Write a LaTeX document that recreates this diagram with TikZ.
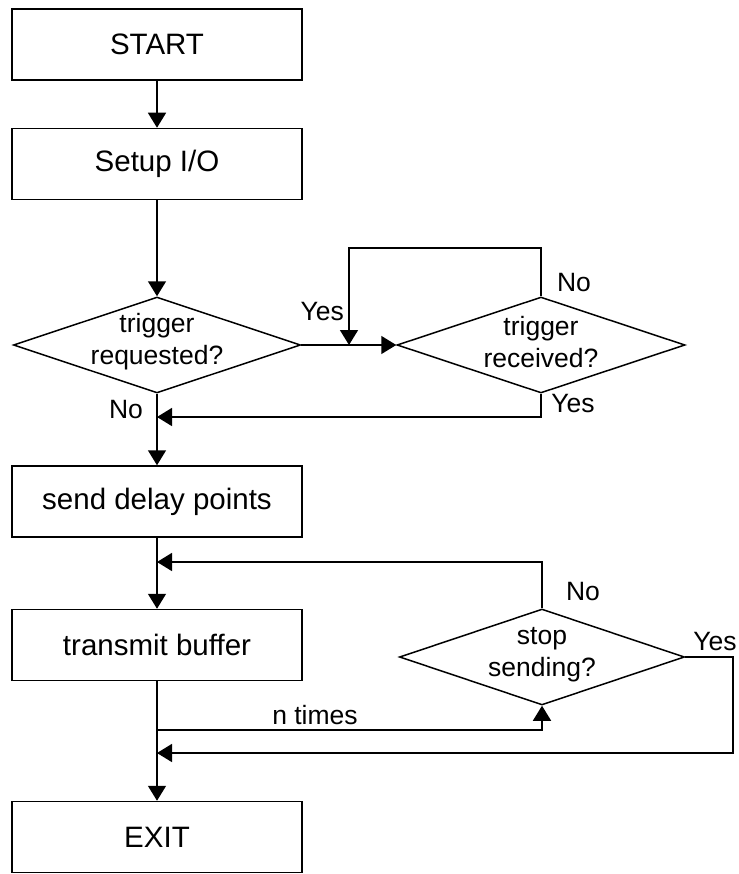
\documentclass[tikz,border=0pt]{standalone}
\usepackage{fontspec}
\setmainfont{Liberation Sans}
\usetikzlibrary{shapes.geometric,arrows.meta}

\tikzset{
  bigtxt/.style={font=\fontsize{29.5}{33}\selectfont, text=black},
  smalltxt/.style={font=\fontsize{26.5}{32}\selectfont, text=black},
  procbox/.style={bigtxt, draw=black, line width=1.5pt, rectangle, minimum width=290pt, minimum height=71pt, inner sep=0pt},
  decision/.style={draw=black, line width=1.5pt, diamond, inner sep=0pt},
  dtext/.style={smalltxt, align=center, inner sep=0pt},
  flow/.style={line width=1.5pt, -{Triangle[length=15pt,width=18pt]}},
  lbl/.style={smalltxt, inner sep=0pt}
}

\begin{document}
\begin{tikzpicture}[x=1pt,y=-1pt]
  \useasboundingbox (0,0) rectangle (738,874);

  % process boxes
  \node[procbox] (start) at (157,44.5) {START};
  \node[procbox] (setup) at (157,164) {Setup I/O};
  \node[procbox] (delay) at (157,501.5) {send delay points};
  \node[procbox] (xmit)  at (157,645) {transmit buffer};
  \node[procbox] (exit)  at (157,837) {EXIT};

  % decisions (outline) and their text
  \node[decision, minimum width=287pt, minimum height=96pt] (treq) at (157,345) {};
  \node[decision, minimum width=288pt, minimum height=96pt] (trec) at (541,345) {};
  \node[decision, minimum width=285pt, minimum height=96pt] (stop) at (542,657) {};
  \node[dtext] (treqtxt) at (157,342) {trigger\\requested?};
  \node[dtext] (trectxt) at (541,342) {trigger\\received?};
  \node[dtext] (stoptxt) at (542,655) {stop\\sending?};

  % junction points on the main lines
  \coordinate (mergeA) at (349,345);
  \coordinate (joinA)  at (157,417);
  \coordinate (joinB)  at (157,562);
  \coordinate (splitC) at (157,730);
  \coordinate (joinC)  at (157,753);

  % main flow
  \draw[flow] (start) -- (setup);
  \draw[flow] (setup) -- (treq.north);
  \draw[flow] (treq.east) -- (trec.west);
  \draw[flow] (treq.south) -- (delay.north);
  \draw[flow] (delay.south) -- (xmit.north);
  \draw[flow] (xmit.south) -- (exit.north);

  % trigger received? loops
  \draw[flow] (trec.north) -- ++(0,-48) -| (mergeA);
  \draw[flow] (trec.south) |- (joinA);

  % stop sending? loops
  \draw[flow] (stop.north) |- (joinB);
  \draw[flow] (splitC) -| (stop.south);
  \draw[flow] (stop.east) -- (733,657) |- (joinC);

  % labels
  \node[lbl, anchor=east] at (344,312) {Yes};
  \node[lbl] at (126,410) {No};
  \node[lbl] at (574,283) {No};
  \node[lbl] at (573,404) {Yes};
  \node[lbl] at (583,592) {No};
  \node[lbl] at (715,642) {Yes};
  \node[lbl] at (315,715) {n times};
\end{tikzpicture}
\end{document}
